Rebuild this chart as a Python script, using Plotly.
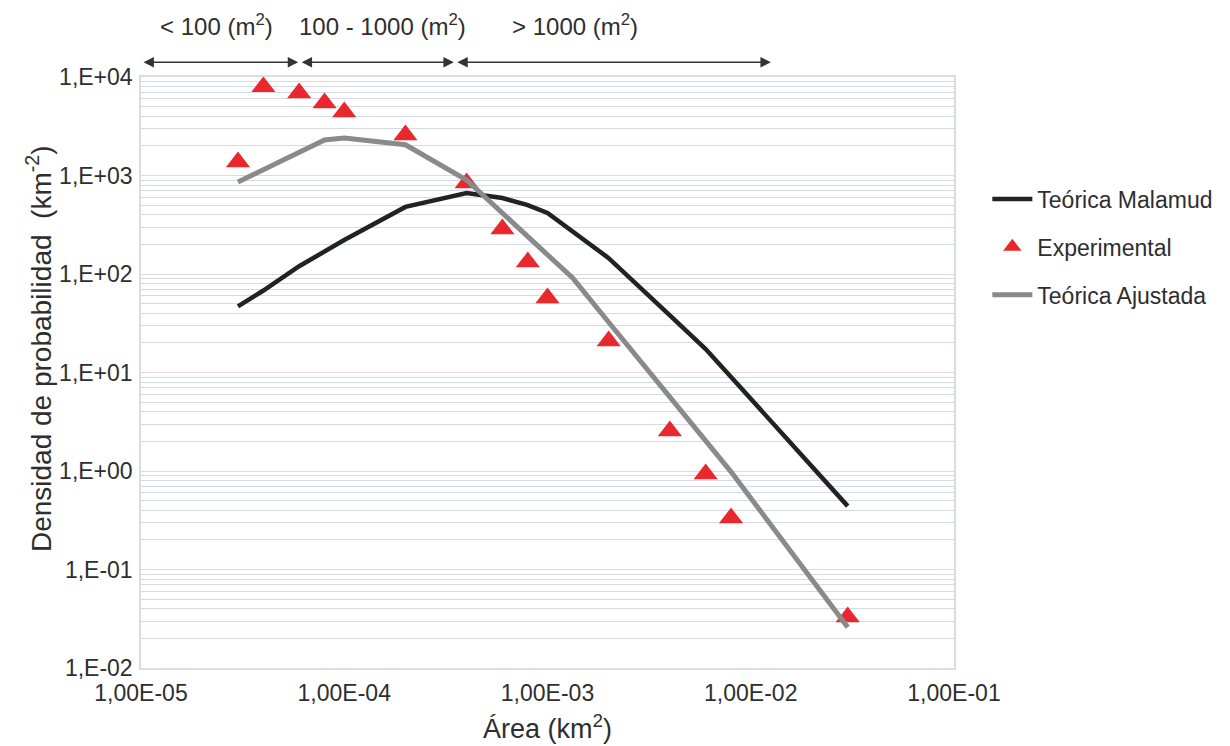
import math
import plotly.graph_objects as go

# ---------------- data ----------------
exp_x = [3e-5, 4e-5, 6e-5, 8e-5, 1e-4, 2e-4, 4e-4, 6e-4, 8e-4, 1e-3, 2e-3, 4e-3, 6e-3, 8e-3, 3e-2]
exp_y = [1370, 7940, 6880, 5450, 4410, 2580, 840, 286, 132, 57, 20.9, 2.55, 0.93, 0.333, 0.033]

mal_x = [3e-5, 4e-5, 6e-5, 8e-5, 1e-4, 2e-4, 4e-4, 6e-4, 8e-4, 1e-3, 2e-3, 4e-3, 6e-3, 8e-3, 3e-2]
mal_y = [47, 68, 120, 170, 221, 480, 665, 590, 500, 416, 145, 38, 17.3, 9.0, 0.44]

adj_x = [3e-5, 6e-5, 8e-5, 1e-4, 2e-4, 4e-4, 6e-4, 8e-4, 1e-3, 1.33e-3, 2e-3, 4e-3, 6e-3, 8e-3, 3e-2]
adj_y = [860, 1730, 2290, 2400, 2050, 900, 414, 239, 156, 91, 32.4, 5.65, 2.03, 0.98, 0.026]

y_tickvals = [1e-2, 1e-1, 1e0, 1e1, 1e2, 1e3, 1e4]
y_ticktext = ["1,E-02", "1,E-01", "1,E+00", "1,E+01", "1,E+02", "1,E+03", "1,E+04"]
x_tickvals = [1e-5, 1e-4, 1e-3, 1e-2, 1e-1]
x_ticktext = ["1,00E-05", "1,00E-04", "1,00E-03", "1,00E-02", "1,00E-01"]

# size-class ranges shown above the plot (km^2)
range_bounds = [1e-5, 6e-5, 3.5e-4, 1.27e-2]
range_labels = ["&lt; 100 (m<sup>2</sup>)", "100 - 1000 (m<sup>2</sup>)", "&gt; 1000 (m<sup>2</sup>)"]
range_label_x = [2.35e-5, 1.55e-4, 1.37e-3]

minor_vals = [m * 10 ** e for e in range(-2, 4) for m in range(2, 10)]

FONT = "Liberation Sans, Arial, sans-serif"
TXT = "#2e2e2e"

fig = go.Figure()
fig.add_trace(go.Scatter(x=mal_x, y=mal_y, mode="lines", name="Teórica Malamud",
                         line=dict(color="#222222", width=4.5), legendgroup="a"))
fig.add_trace(go.Scatter(x=exp_x, y=exp_y, mode="markers", name="Experimental",
                         marker=dict(symbol="triangle-up", color="#e8282c", size=21),
                         legendgroup="b"))
fig.add_trace(go.Scatter(x=adj_x, y=adj_y, mode="lines", name="Teórica Ajustada",
                         line=dict(color="#8a8a8a", width=5), legendgroup="c"))

# arrows
for a, b in zip(range_bounds[:-1], range_bounds[1:]):
    fig.add_annotation(x=math.log10(b), y=1.025, xref="x", yref="paper",
                       ax=math.log10(a), ay=0, axref="x", ayref="pixel",
                       text="", showarrow=True, arrowside="end+start",
                       arrowhead=2, arrowsize=1.3, arrowwidth=1.6, arrowcolor="#333333",
                       standoff=1, startstandoff=1)
for lx, lt in zip(range_label_x, range_labels):
    fig.add_annotation(x=math.log10(lx), y=1.088, xref="x", yref="paper",
                       xanchor="center", yanchor="middle",
                       text=lt, showarrow=False, font=dict(size=24, color=TXT, family=FONT))

# axis titles
fig.add_annotation(x=0.5, y=-0.100, xref="paper", yref="paper", xanchor="center", yanchor="middle",
                   text="Área (km<sup>2</sup>)", showarrow=False,
                   font=dict(size=27, color=TXT, family=FONT))
fig.add_annotation(x=-0.1245, y=0.541, xref="paper", yref="paper", xanchor="center", yanchor="middle",
                   text="Densidad de probabilidad  (km<sup>-2</sup>)", showarrow=False, textangle=-90,
                   font=dict(size=28, color=TXT, family=FONT))

fig.update_layout(
    width=1230, height=746,
    margin=dict(l=141, r=262, t=77, b=78),
    paper_bgcolor="white", plot_bgcolor="white",
    font=dict(family=FONT, color=TXT, size=23),
    legend=dict(x=1.041, y=0.83, xanchor="left", yanchor="top",
                font=dict(size=23, color=TXT), tracegroupgap=15,
                bgcolor="rgba(0,0,0,0)", itemwidth=40),
    showlegend=True,
)
fig.update_xaxes(type="log", range=[-5, -1], tickvals=x_tickvals, ticktext=x_ticktext,
                 showgrid=False, showline=True, linecolor="#dcdcdc", linewidth=1.5, mirror=True,
                 ticks="", ticklabelstandoff=4, zeroline=False, automargin=False,
                 tickfont=dict(size=23, color=TXT))
fig.update_yaxes(type="log", range=[-2, 4], tickvals=y_tickvals, ticktext=y_ticktext,
                 showgrid=True, gridcolor="#e3d9d9", gridwidth=1.2,
                 minor=dict(tickvals=minor_vals, showgrid=True, gridcolor="#d3dce6", gridwidth=1.2),
                 showline=True, linecolor="#dcdcdc", linewidth=1.5, mirror=True,
                 ticks="", ticklabelstandoff=2, zeroline=False, automargin=False,
                 tickfont=dict(size=23, color=TXT))

fig.write_html("out.html", config={"displayModeBar": False},
               post_script="document.body.style.margin='0';document.body.style.overflow='hidden';")
